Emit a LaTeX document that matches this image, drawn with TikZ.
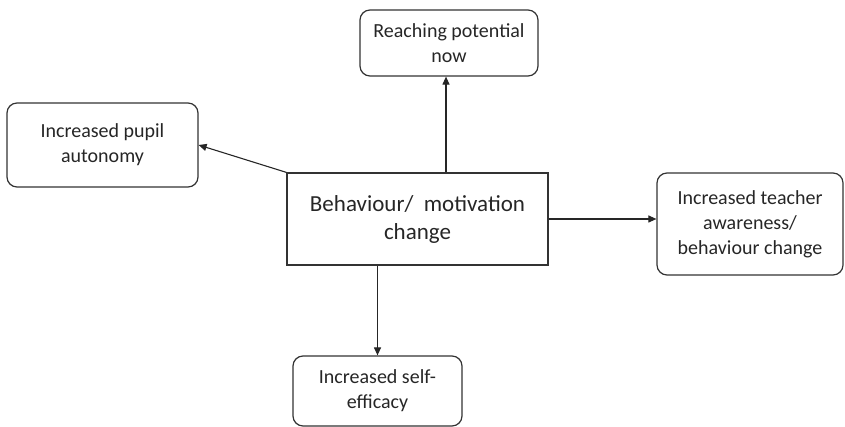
\documentclass[tikz,border=0pt]{standalone}
\usepackage{fontspec}
\setmainfont{Carlito}
\usetikzlibrary{positioning, arrows.meta}

\begin{document}
\begin{tikzpicture}[x=1pt, y=-1pt,
    outcome/.style={draw=black!80, line width=1.2pt, rounded corners=10pt, align=center,
        inner sep=0pt, text=black!85, font=\fontsize{20}{25}\selectfont},
    change/.style={draw=black!80, line width=1.2pt, align=center,
        inner sep=0pt, text=black!85, font=\fontsize{23}{28}\selectfont},
    link/.style={draw=black!85, line width=1.1pt, -{Triangle[length=8pt, width=7pt]}}]
            \useasboundingbox (0,0) rectangle (845,427);

            \node[change, minimum width=261pt, minimum height=92pt] (change) at (417.5,219) {Behaviour/\ \ motivation\\change};
            \node[outcome, minimum width=178pt, minimum height=66pt] (potential) at (449,43) {Reaching potential\\now};
            \node[outcome, minimum width=191pt, minimum height=84pt] (autonomy) at (102.5,145) {Increased pupil\\autonomy};
            \node[outcome, minimum width=186pt, minimum height=102pt] (teacher) at (750,224) {Increased teacher\\awareness/\\behaviour change};
            \node[outcome, minimum width=169pt, minimum height=70pt] (efficacy) at (377.5,391) {Increased self-\\efficacy};

            % Draw edges
            \draw[link] ([xshift=-3pt]change.north -| potential.south) -- ([xshift=-3pt]potential.south);
            \draw[link] (change.north west) -- (autonomy.east);
            \draw[link] (change.east) -- (change.east -| teacher.west);
            \draw[link] (change.south -| efficacy.north) -- (efficacy.north);
\end{tikzpicture}
\end{document}
